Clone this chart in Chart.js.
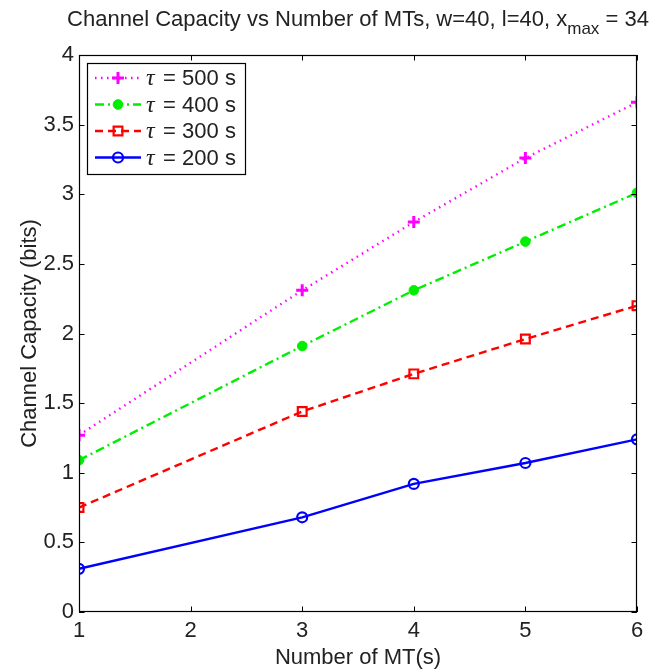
<!DOCTYPE html>
<html>
<head>
<meta charset="utf-8">
<script src="https://cdn.jsdelivr.net/npm/chart.js@4.4.0/dist/chart.umd.min.js"></script>
<style>
html,body{margin:0;padding:0;background:#fff;}
canvas{display:block;}
</style>
</head>
<body>
<canvas id="chart" width="655" height="671"></canvas>
<script>
// values
const mtCounts = [1, 3, 4, 5, 6];
const cap500 = [1.27, 2.31, 2.80, 3.26, 3.66];
const cap400 = [1.09, 1.91, 2.31, 2.66, 3.01];
const cap300 = [0.75, 1.44, 1.71, 1.96, 2.20];
const cap200 = [0.31, 0.68, 0.92, 1.07, 1.24];
const tauLabels = ['500 s', '400 s', '300 s', '200 s'];
const xTicks = [1, 2, 3, 4, 5, 6];
const yTicks = [0, 0.5, 1, 1.5, 2, 2.5, 3, 3.5, 4];

const titleMain = 'Channel Capacity vs Number of MTs, w=40, l=40, x';
const titleSub = 'max';
const titleEnd = ' = 34';
const xTitle = 'Number of MT(s)';
const yTitle = 'Channel Capacity (bits)';

const FONT = '"Liberation Sans", Arial, sans-serif';
const FS = 22;

function pts(vals){
return mtCounts.map((x,i)=>({x:x, y:vals[i]}));
}

const datasets = [
{label:tauLabels[0], data:pts(cap500), borderColor:'#ff00ff', backgroundColor:'#ff00ff',
 borderDash:[1.5,4.5], pointStyle:'cross', pointRadius:6, pointBorderWidth:3},
{label:tauLabels[1], data:pts(cap400), borderColor:'#00ee00', backgroundColor:'#00ee00',
 borderDash:[9,4,2,4], pointStyle:'circle', pointRadius:4.8, pointBorderWidth:1},
{label:tauLabels[2], data:pts(cap300), borderColor:'#ff0000', backgroundColor:'rgba(0,0,0,0)',
 borderDash:[8,5], pointStyle:'rect', pointRadius:6.2, pointBorderWidth:2.2},
{label:tauLabels[3], data:pts(cap200), borderColor:'#0000ff', backgroundColor:'rgba(0,0,0,0)',
 borderDash:[], pointStyle:'circle', pointRadius:5, pointBorderWidth:2.2}
];
datasets.forEach(d=>{
d.borderWidth = 2.4;
d.fill = false;
d.tension = 0;
d.pointBorderColor = d.borderColor;
d.pointBackgroundColor = d.backgroundColor;
d.pointHoverRadius = d.pointRadius;
});

const decorations = {
id:'decorations',
afterDraw(chart){
const ctx = chart.ctx;
const a = chart.chartArea;
const xs = chart.scales.x, ys = chart.scales.y;
ctx.save();

// frame and inside ticks
ctx.strokeStyle = '#000';
ctx.lineWidth = 1.2;
ctx.setLineDash([]);
ctx.strokeRect(a.left+0.5, a.top+0.5, a.right-a.left-1, a.bottom-a.top-1);
const tl = 5.5;
ctx.lineWidth = 1;
ctx.beginPath();
xTicks.forEach(v=>{
const px = Math.round(xs.getPixelForValue(v))+0.5;
ctx.moveTo(px, a.bottom); ctx.lineTo(px, a.bottom-tl);
ctx.moveTo(px, a.top); ctx.lineTo(px, a.top+tl);
});
yTicks.forEach(v=>{
const py = Math.round(ys.getPixelForValue(v))+0.5;
ctx.moveTo(a.left, py); ctx.lineTo(a.left+tl, py);
ctx.moveTo(a.right, py); ctx.lineTo(a.right-tl, py);
});
ctx.stroke();

// title with subscript
ctx.fillStyle = '#222';
ctx.textBaseline = 'alphabetic';
ctx.textAlign = 'left';
const big = FS + 'px ' + FONT, small = (FS-5) + 'px ' + FONT;
ctx.font = big;
const w1 = ctx.measureText(titleMain).width;
const w3 = ctx.measureText(titleEnd).width;
ctx.font = small;
const w2 = ctx.measureText(titleSub).width;
const total = w1 + w2 + w3;
let tx = (a.left + a.right)/2 - total/2;
const ty = 26;
ctx.font = big;
ctx.fillText(titleMain, tx, ty);
ctx.font = small;
ctx.fillText(titleSub, tx + w1, ty + 8);
ctx.font = big;
ctx.fillText(titleEnd, tx + w1 + w2, ty);

// axis titles
ctx.textAlign = 'center';
ctx.fillText(xTitle, (a.left + a.right)/2, 664);
ctx.save();
ctx.translate(30, (a.top + a.bottom)/2);
ctx.rotate(-Math.PI/2);
ctx.textBaseline = 'middle';
ctx.fillText(yTitle, 0, 0);
ctx.restore();

// legend
const box = {l:87, t:63, r:245, b:174};
ctx.fillStyle = '#fff';
ctx.fillRect(box.l, box.t, box.r-box.l, box.b-box.t);
ctx.strokeStyle = '#000';
ctx.lineWidth = 1.2;
ctx.strokeRect(box.l+0.5, box.t+0.5, box.r-box.l, box.b-box.t);
const rowY = [78, 104.5, 131, 157.5];
chart.data.datasets.forEach((d,i)=>{
const y = rowY[i];
ctx.strokeStyle = d.borderColor;
ctx.lineWidth = d.borderWidth;
ctx.setLineDash(d.borderDash);
ctx.beginPath();
ctx.moveTo(95, y); ctx.lineTo(141, y);
ctx.stroke();
ctx.setLineDash([]);
ctx.fillStyle = d.pointBackgroundColor;
ctx.lineWidth = d.pointBorderWidth;
Chart.helpers.drawPoint(ctx, {pointStyle:d.pointStyle, radius:d.pointRadius, borderWidth:d.pointBorderWidth, rotation:0}, 118, y);
ctx.fillStyle = '#222';
ctx.textAlign = 'left';
ctx.textBaseline = 'middle';
ctx.font = 'italic ' + (FS+2) + 'px "Liberation Serif", "DejaVu Serif", serif';
ctx.fillText('τ', 146, y+1);
ctx.font = big;
ctx.fillText(' = ' + d.label, 157, y+1);
});
ctx.restore();
}
};

new Chart(document.getElementById('chart'), {
type:'line',
data:{datasets:datasets},
options:{
responsive:false,
animation:false,
events:[],
layout:{padding:{top:55, right:18, left:0, bottom:0}},
plugins:{legend:{display:false}, title:{display:false}, tooltip:{enabled:false}},
scales:{
x:{
type:'linear', min:1, max:6,
afterFit(s){ s.height = 59; },
afterBuildTicks(s){ s.ticks = xTicks.map(v=>({value:v})); },
grid:{display:false, drawTicks:false},
border:{display:false},
ticks:{padding:6, color:'#222', font:{family:FONT, size:FS}, callback:v=>String(v)}
},
y:{
type:'linear', min:0, max:4,
afterFit(s){ s.width = 79; },
afterBuildTicks(s){ s.ticks = yTicks.map(v=>({value:v})); },
grid:{display:false, drawTicks:false},
border:{display:false},
ticks:{padding:5, color:'#222', font:{family:FONT, size:FS}, callback:v=>String(v)}
}
}
},
plugins:[decorations]
});
</script>
</body>
</html>
